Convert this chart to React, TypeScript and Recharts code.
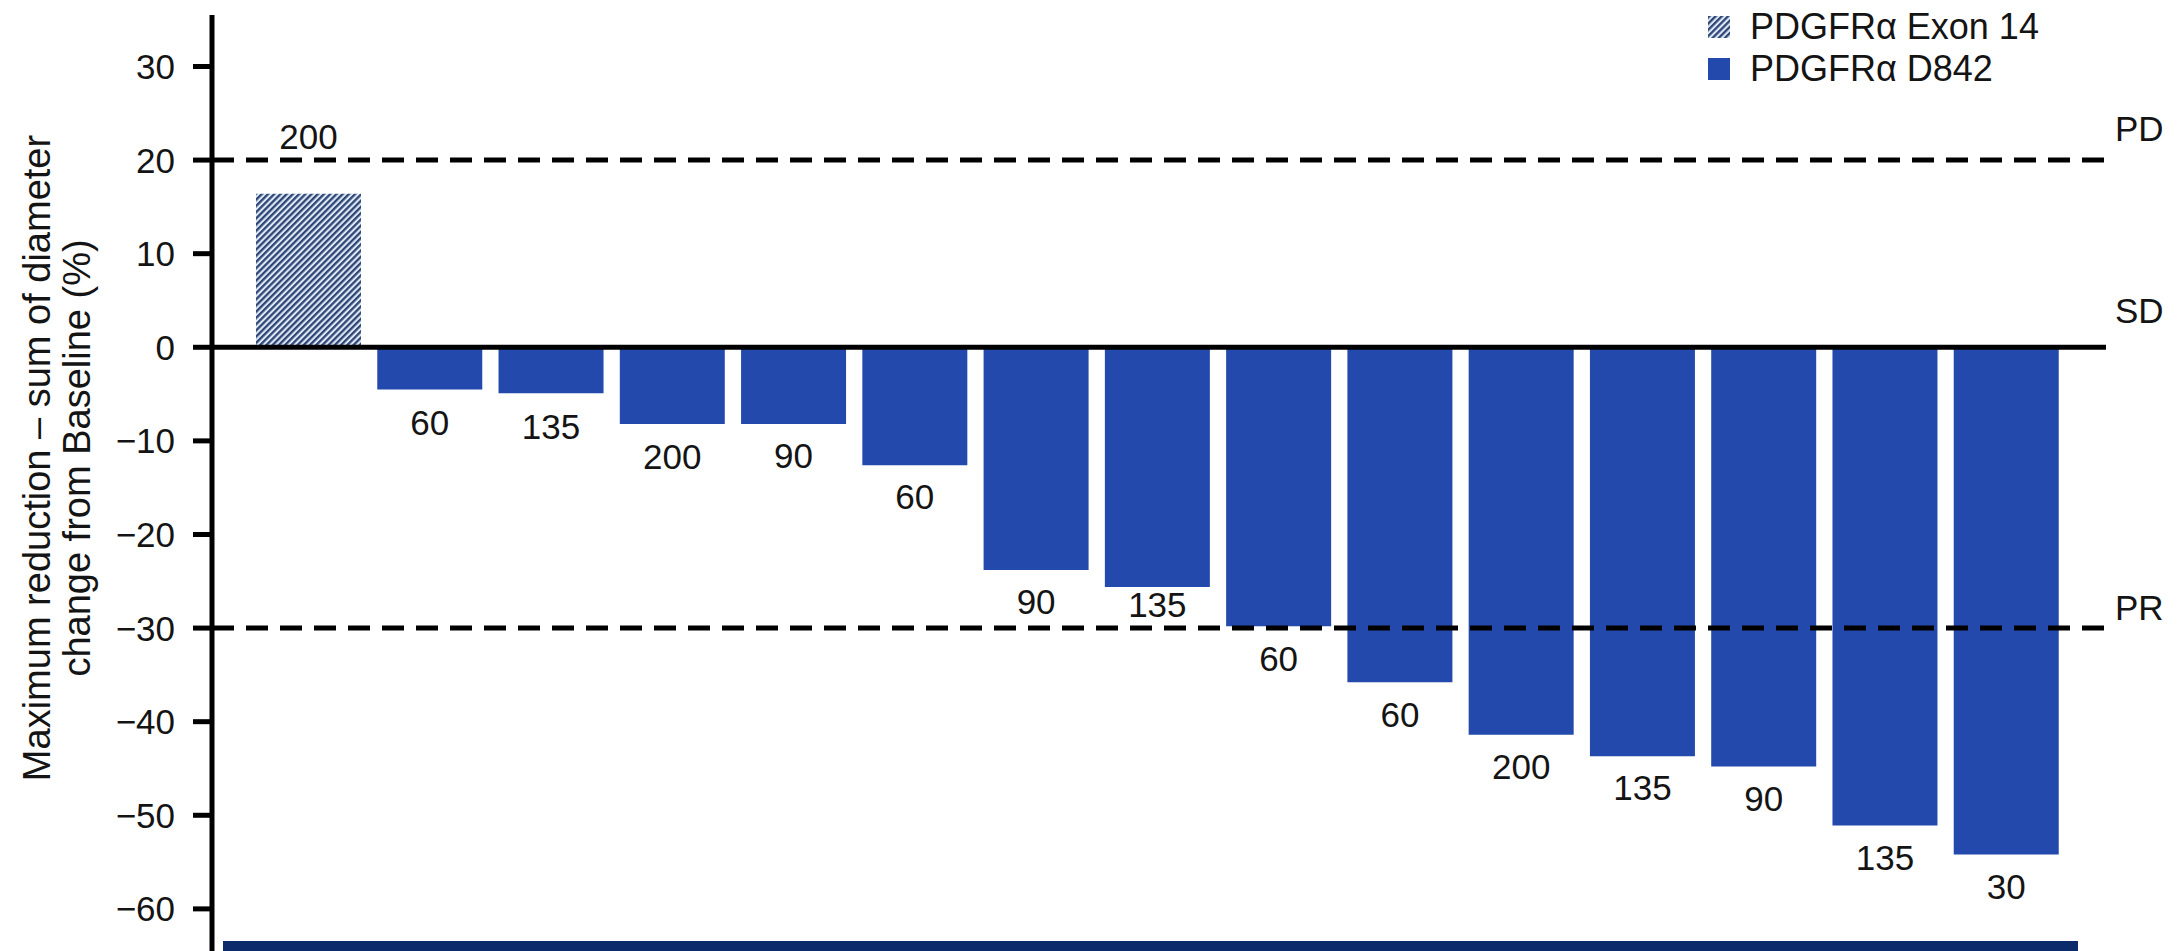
import React from 'react';
import { BarChart, Bar, XAxis, YAxis, ReferenceLine, LabelList, Legend } from 'recharts';

const FONT = "'Liberation Sans', Arial, Helvetica, sans-serif";
const BLUE = '#2249ab';
const HATCH_DARK = '#2e4675';
const HATCH_LIGHT = '#dfe8f5';
const NAVY = '#0c2b6b';
const TEXT = '#141414';

// ---- data ----
const patients = ['1', '2', '3', '4', '5', '6', '7', '8', '9', '10', '11', '12', '13', '14', '15'];
const exon14Change = [16.4, null, null, null, null, null, null, null, null, null, null, null, null, null, null];
const d842Change = [null, -4.5, -4.9, -8.2, -8.2, -12.6, -23.8, -25.6, -29.8, -35.8, -41.4, -43.7, -44.8, -51.1, -54.2];
const doseMg = [200, 60, 135, 200, 90, 60, 90, 135, 60, 60, 200, 135, 90, 135, 30];
const yTicks = [30, 20, 10, 0, -10, -20, -30, -40, -50, -60];
const seriesNames = ['PDGFRα Exon 14', 'PDGFRα D842'];
const thresholdValues = [20, 0, -30];
const thresholdLabels = ['PD', 'SD', 'PR'];
const yTitleLines = ['Maximum reduction – sum of diameter', 'change from Baseline (%)'];

const data = patients.map((p, i) => ({
  patient: p,
  exon14: exon14Change[i],
  d842: d842Change[i],
  dose: doseMg[i],
}));

// label gap (px) between bar end and label centre, per bar (style only)
const labelGap = [57, 33, 33, 32, 31, 31, 31, 18, 32, 32, 32, 31, 32, 32, 32];

const fmtTick = (v: number) => (v < 0 ? '\u2212' + Math.abs(v) : String(v));

const DoseLabel = (props: any) => {
  const v = props.value;
  if (!v || v.change == null) return null;
  const vb = props.viewBox && props.viewBox.width !== undefined ? props.viewBox : props;
  const top = Math.min(vb.y, vb.y + vb.height);
  const bottom = Math.max(vb.y, vb.y + vb.height);
  const cx = vb.x + vb.width / 2;
  const gap = labelGap[v.i] ?? 32;
  const cy = v.change >= 0 ? top - gap : bottom + gap;
  return (
    <text x={cx} y={cy} dy="0.357em" textAnchor="middle" fontSize={35} fill={TEXT} fontFamily={FONT}>
      {v.dose}
    </text>
  );
};

const thresholdLift = [31.5, 37, 21];

const makeThresholdLabel = (i: number) => (props: any) => {
  const vb = props.viewBox || {};
  const x = vb.x + vb.width + 9;
  const cy = vb.y - thresholdLift[i];
  return (
    <text x={x} y={cy} dy="0.357em" textAnchor="start" fontSize={35} fill={TEXT} fontFamily={FONT}>
      {thresholdLabels[i]}
    </text>
  );
};

const YTitle = (props: any) => {
  const vb = props.viewBox || { x: 0, y: 15, width: 212, height: 936 };
  const cy = vb.y + vb.height / 2 - 25;
  const xs = [50, 90];
  return (
    <g>
      {yTitleLines.map((t, i) => (
        <text
          key={i}
          x={xs[i]}
          y={cy}
          transform={`rotate(-90, ${xs[i]}, ${cy})`}
          textAnchor="middle"
          fontSize={38}
          fill={TEXT}
          fontFamily={FONT}
        >
          {t}
        </text>
      ))}
    </g>
  );
};

const HatchPattern = ({ id }: { id: string }) => (
  <pattern id={id} patternUnits="userSpaceOnUse" width={4.4} height={4.4} patternTransform="rotate(45)">
    <rect x={0} y={0} width={4.4} height={4.4} fill={HATCH_LIGHT} />
    <rect x={0} y={0} width={2.3} height={4.4} fill={HATCH_DARK} />
  </pattern>
);

const seriesFills = ['url(#hatchLegend)', BLUE];

const renderLegend = () => (
  <div style={{ fontFamily: FONT, fontSize: 36, color: TEXT }}>
    {seriesNames.map((name, i) => (
      <div key={name} style={{ display: 'flex', alignItems: 'center', height: 42 }}>
        <svg width={22} height={22} style={{ marginRight: 20, flex: 'none' }}>
          {i === 0 ? (
            <defs>
              <HatchPattern id="hatchLegend" />
            </defs>
          ) : null}
          <rect x={0} y={0} width={22} height={22} fill={seriesFills[i]} />
        </svg>
        <span style={{ lineHeight: '42px', whiteSpace: 'nowrap' }}>{name}</span>
      </div>
    ))}
  </div>
);

export default function App() {
  return (
    <div
      style={{
        position: 'absolute',
        left: 0,
        top: 0,
        width: 2177,
        height: 951,
        overflow: 'hidden',
        background: '#fff',
      }}
    >
      <svg width={0} height={0} style={{ position: 'absolute' }}>
        <defs>
          <HatchPattern id="hatchBar" />
        </defs>
      </svg>
      <div
        style={{ position: 'absolute', left: 223, top: 941, width: 1855, height: 10, background: NAVY }}
      />
      <div style={{ position: 'absolute', left: 0, top: 0 }}>
        <BarChart
          width={2177}
          height={951}
          data={data}
          margin={{ top: 15, right: 71, bottom: 0, left: 0 }}
          barSize={105}
        >
          <XAxis dataKey="patient" hide padding={{ left: 36, right: 39 }} />
          <YAxis
            type="number"
            domain={[-64.5, 35.5]}
            ticks={yTicks}
            interval={0}
            width={212}
            tickFormatter={fmtTick}
            tickSize={19}
            tickMargin={18}
            axisLine={{ stroke: '#000', strokeWidth: 5 }}
            tickLine={{ stroke: '#000', strokeWidth: 5 }}
            tick={{ fontSize: 35, fill: TEXT, fontFamily: FONT }}
            label={(p: any) => <YTitle {...p} />}
          />
          <Legend
            layout="horizontal"
            verticalAlign="middle"
            align="center"
            content={renderLegend}
            wrapperStyle={{ left: 1708, top: 6, width: 460, height: 84 }}
          />
          <Bar dataKey="exon14" name={seriesNames[0]} stackId="s" fill="url(#hatchBar)" isAnimationActive={false}>
            <LabelList
              dataKey={(d: any) =>
                d.exon14 == null ? null : { dose: d.dose, change: d.exon14, i: patients.indexOf(d.patient) }
              }
              content={(p: any) => <DoseLabel {...p} />}
            />
          </Bar>
          <Bar dataKey="d842" name={seriesNames[1]} stackId="s" fill={BLUE} isAnimationActive={false}>
            <LabelList
              dataKey={(d: any) =>
                d.d842 == null ? null : { dose: d.dose, change: d.d842, i: patients.indexOf(d.patient) }
              }
              content={(p: any) => <DoseLabel {...p} />}
            />
          </Bar>
          {thresholdValues.map((v, i) => (
            <ReferenceLine
              key={thresholdLabels[i]}
              y={v}
              stroke="#000"
              strokeWidth={5}
              strokeDasharray={i === 1 ? undefined : '22 12'}
              label={makeThresholdLabel(i)}
            />
          ))}
        </BarChart>
      </div>
    </div>
  );
}
